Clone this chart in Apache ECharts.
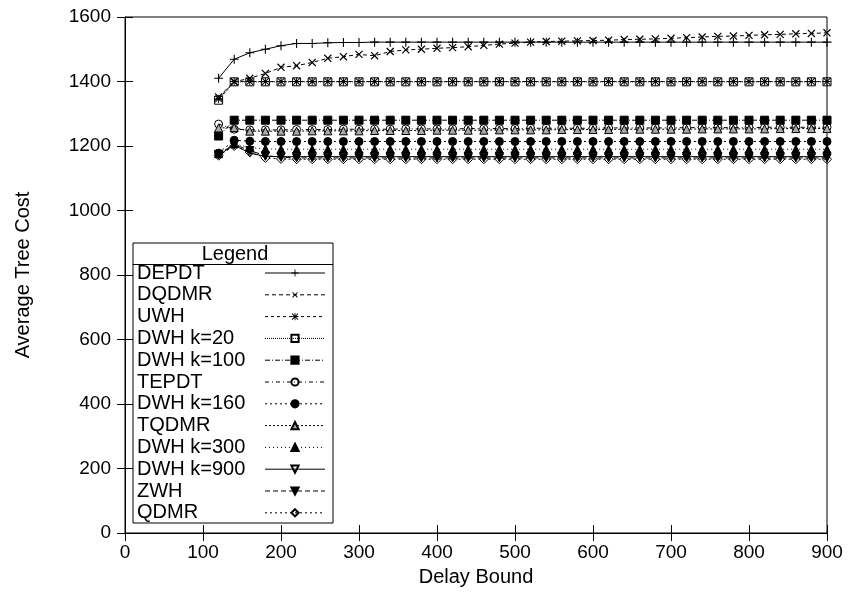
<!DOCTYPE html>
<html>
<head>
<meta charset="utf-8">
<script src="https://cdn.jsdelivr.net/npm/echarts@6/dist/echarts.min.js"></script>
<style>
  html, body { margin: 0; padding: 0; background: #fff; }
  #chart { width: 852px; height: 600px; }
</style>
</head>
<body>
<div id="chart"></div>
<script>
// Delay bound values (x axis)
const delayBounds = [120, 140, 160, 180, 200, 220, 240, 260, 280, 300,
  320, 340, 360, 380, 400, 420, 440, 460, 480, 500,
  520, 540, 560, 580, 600, 620, 640, 660, 680, 700,
  720, 740, 760, 780, 800, 820, 840, 860, 880, 900];

const xTicks = [0, 100, 200, 300, 400, 500, 600, 700, 800, 900];
const yTicks = [0, 200, 400, 600, 800, 1000, 1200, 1400, 1600];

// Average tree cost per algorithm
const depdt = [1410, 1469, 1489, 1500, 1511, 1518, 1518, 1520, 1521, 1521,
  1522, 1522, 1522, 1522, 1522, 1522, 1522, 1522, 1522, 1522,
  1522, 1522, 1522, 1522, 1522, 1522, 1522, 1522, 1522, 1522,
  1522, 1522, 1522, 1522, 1522, 1522, 1522, 1522, 1522, 1522];
const dqdmr = [1352, 1399, 1410, 1425, 1444, 1449, 1459, 1472, 1477, 1484,
  1480, 1493, 1498, 1500, 1503, 1505, 1508, 1512, 1516, 1519,
  1522, 1524, 1525, 1526, 1527, 1528, 1530, 1531, 1532, 1534,
  1536, 1538, 1540, 1541, 1543, 1545, 1546, 1548, 1549, 1551];
const uwh = [1346, 1400, 1400, 1400, 1400, 1400, 1400, 1400, 1400, 1400,
  1400, 1400, 1400, 1400, 1400, 1400, 1400, 1400, 1400, 1400,
  1400, 1400, 1400, 1400, 1400, 1400, 1400, 1400, 1400, 1400,
  1400, 1400, 1400, 1400, 1400, 1400, 1400, 1400, 1400, 1400];
const dwhK20 = [1342, 1399, 1399, 1399, 1399, 1399, 1399, 1399, 1399, 1399,
  1399, 1399, 1399, 1399, 1399, 1399, 1399, 1399, 1399, 1399,
  1399, 1399, 1399, 1399, 1399, 1399, 1399, 1399, 1399, 1399,
  1399, 1399, 1399, 1399, 1399, 1399, 1399, 1399, 1399, 1399];
const dwhK100 = [1231, 1280, 1280, 1280, 1280, 1280, 1280, 1280, 1280, 1280,
  1280, 1280, 1280, 1280, 1280, 1280, 1280, 1280, 1280, 1280,
  1280, 1280, 1280, 1280, 1280, 1280, 1280, 1280, 1280, 1280,
  1280, 1280, 1280, 1280, 1280, 1280, 1280, 1280, 1280, 1280];
const tepdt = [1268, 1252, 1250, 1250, 1250, 1251, 1251, 1251, 1252, 1252,
  1252, 1252, 1253, 1253, 1253, 1253, 1254, 1254, 1254, 1254,
  1255, 1255, 1255, 1255, 1255, 1256, 1256, 1256, 1256, 1256,
  1257, 1257, 1257, 1257, 1257, 1258, 1258, 1258, 1258, 1258];
const dwhK160 = [1178, 1218, 1215, 1214, 1214, 1214, 1214, 1214, 1214, 1214,
  1214, 1214, 1214, 1214, 1214, 1214, 1214, 1214, 1214, 1214,
  1214, 1214, 1214, 1214, 1214, 1214, 1214, 1214, 1214, 1214,
  1214, 1214, 1214, 1214, 1214, 1214, 1214, 1214, 1214, 1214];
const tqdmr = [1256, 1257, 1246, 1246, 1246, 1246, 1247, 1247, 1247, 1247,
  1248, 1248, 1248, 1248, 1249, 1249, 1249, 1249, 1250, 1250,
  1250, 1250, 1251, 1251, 1251, 1251, 1252, 1252, 1252, 1252,
  1252, 1253, 1253, 1253, 1253, 1253, 1254, 1254, 1254, 1254];
const dwhK300 = [1176, 1207, 1195, 1191, 1190, 1190, 1190, 1190, 1190, 1190,
  1190, 1190, 1190, 1190, 1190, 1190, 1190, 1190, 1190, 1190,
  1190, 1190, 1190, 1190, 1190, 1190, 1190, 1190, 1190, 1190,
  1190, 1190, 1190, 1190, 1190, 1190, 1190, 1190, 1190, 1190];
const dwhK900 = [1172, 1203, 1178, 1168, 1167, 1167, 1167, 1167, 1167, 1167,
  1167, 1167, 1167, 1167, 1167, 1167, 1167, 1167, 1167, 1167,
  1167, 1167, 1167, 1167, 1167, 1167, 1167, 1167, 1167, 1167,
  1167, 1167, 1167, 1167, 1167, 1167, 1167, 1167, 1167, 1167];
const zwh = [1174, 1205, 1186, 1170, 1165, 1163, 1163, 1163, 1163, 1163,
  1163, 1163, 1163, 1163, 1163, 1163, 1163, 1163, 1163, 1163,
  1163, 1163, 1163, 1163, 1163, 1163, 1163, 1163, 1163, 1163,
  1163, 1163, 1163, 1163, 1163, 1163, 1163, 1163, 1163, 1163];
const qdmr = [1170, 1200, 1181, 1163, 1160, 1159, 1159, 1159, 1159, 1159,
  1159, 1159, 1159, 1159, 1159, 1159, 1159, 1159, 1159, 1159,
  1159, 1159, 1159, 1159, 1159, 1159, 1159, 1159, 1159, 1159,
  1159, 1159, 1159, 1159, 1159, 1159, 1159, 1159, 1159, 1159];

// Point-style glyphs drawn as filled outlines
const PLUS = 'path://M4.4,0H5.6V10H4.4Z M0,4.4H10V5.6H0Z';
const STAR = 'path://M4.4,0H5.6V10H4.4Z M0,4.4H10V5.6H0Z ' +
  'M0.38,1.22L1.22,0.38L9.62,8.78L8.78,9.62Z M8.78,0.38L9.62,1.22L1.22,9.62L0.38,8.78Z';

const FONT = 'Liberation Sans, Arial, Helvetica, sans-serif';
const HOLLOW = 'rgba(0,0,0,0)';

function pairs(values) {
  return delayBounds.map((d, i) => [d, values[i]]);
}

function makeSeries(name, values, symbol, opts) {
  opts = opts || {};
  return {
    name: name,
    type: 'line',
    data: pairs(values),
    symbol: symbol,
    symbolSize: opts.size || 8,
    symbolRotate: opts.rotate || 0,
    showAllSymbol: true,
    color: '#000',
    lineStyle: { color: '#000', width: 1, type: opts.dash || 'solid' },
    itemStyle: {
      color: opts.fill === undefined ? '#000' : opts.fill,
      borderColor: '#000',
      borderWidth: opts.border === undefined ? 1 : opts.border
    },
    emphasis: { disabled: true },
    animation: false
  };
}

const series = [
  makeSeries('DEPDT', depdt, PLUS, { size: 9, border: 0 }),
  makeSeries('DQDMR', dqdmr, PLUS, { size: 10, border: 0, rotate: 45, dash: [4, 3] }),
  makeSeries('UWH', uwh, STAR, { size: 8, border: 0, dash: [3, 3] }),
  makeSeries('DWH k=20', dwhK20, 'rect', { size: 8, fill: HOLLOW, dash: [1, 1] }),
  makeSeries('DWH k=100', dwhK100, 'rect', { size: 8, dash: [5, 2, 1, 2] }),
  makeSeries('TEPDT', tepdt, 'circle', { size: 8, fill: HOLLOW, dash: [4, 3, 1, 3] }),
  makeSeries('DWH k=160', dwhK160, 'circle', { size: 8, dash: [2, 3] }),
  makeSeries('TQDMR', tqdmr, 'triangle', { size: 8, fill: '#aaa', dash: [2, 2] }),
  makeSeries('DWH k=300', dwhK300, 'triangle', { size: 8, dash: [1, 3] }),
  makeSeries('DWH k=900', dwhK900, 'triangle', { size: 8, fill: HOLLOW, rotate: 180 }),
  makeSeries('ZWH', zwh, 'triangle', { size: 8, rotate: 180, dash: [5, 3] }),
  makeSeries('QDMR', qdmr, 'diamond', { size: 9, fill: HOLLOW, dash: [2, 3] })
];

const tickLabel = {
  color: '#000', fontFamily: FONT, fontSize: 19,
  formatter: v => String(v)
};

const chart = echarts.init(document.getElementById('chart'), null, { renderer: 'canvas' });

const option = {
  backgroundColor: '#fff',
  animation: false,
  grid: {
    left: 125, right: 25, top: 17, bottom: 67,
    show: true, borderColor: '#000', borderWidth: 1, backgroundColor: 'transparent'
  },
  xAxis: [
    {
      type: 'value', min: xTicks[0], max: xTicks[xTicks.length - 1], interval: 100,
      name: 'Delay Bound', nameLocation: 'middle', nameGap: 34,
      nameTextStyle: { color: '#000', fontFamily: FONT, fontSize: 20 },
      axisLine: { show: true, lineStyle: { color: '#000', width: 1 } },
      axisTick: { show: true, inside: true, length: 8, lineStyle: { color: '#000' } },
      axisLabel: Object.assign({ margin: 10 }, tickLabel),
      splitLine: { show: false }
    },
    {
      type: 'value', position: 'top', min: xTicks[0], max: xTicks[xTicks.length - 1], interval: 100,
      axisLine: { show: true, lineStyle: { color: '#000', width: 1 } },
      axisTick: { show: true, inside: true, length: 8, lineStyle: { color: '#000' } },
      axisLabel: { show: false },
      splitLine: { show: false }
    }
  ],
  yAxis: [
    {
      type: 'value', min: yTicks[0], max: yTicks[yTicks.length - 1], interval: 200,
      name: 'Average Tree Cost', nameLocation: 'middle', nameGap: 92,
      nameTextStyle: { color: '#000', fontFamily: FONT, fontSize: 20 },
      axisLine: { show: true, lineStyle: { color: '#000', width: 1 } },
      axisTick: { show: true, inside: true, length: 8, lineStyle: { color: '#000' } },
      axisLabel: Object.assign({ margin: 14 }, tickLabel),
      splitLine: { show: false }
    },
    {
      type: 'value', position: 'right', min: yTicks[0], max: yTicks[yTicks.length - 1], interval: 200,
      axisLine: { show: true, lineStyle: { color: '#000', width: 1 } },
      axisTick: { show: true, inside: true, length: 8, lineStyle: { color: '#000' } },
      axisLabel: { show: false },
      splitLine: { show: false }
    }
  ],
  legend: {
    orient: 'vertical',
    left: 133,
    top: 263,
    z: 10,
    align: 'right',
    padding: [0, 0, 0, 4],
    itemWidth: 60,
    itemHeight: 9,
    itemGap: 1.8,
    selectedMode: false,
    lineStyle: { width: 1 },
    formatter: name => '{n|' + name + '}',
    textStyle: {
      color: '#000', fontFamily: FONT, fontSize: 20, lineHeight: 20,
      rich: {
        n: { width: 123, align: 'left', color: '#000', fontFamily: FONT, fontSize: 20, lineHeight: 20 }
      }
    },
    data: series.map(s => s.name)
  },
  graphic: [
    {
      type: 'rect', z: 5,
      shape: { x: 133, y: 243, width: 200, height: 280 },
      style: { fill: '#fff', stroke: '#000', lineWidth: 1 }
    },
    {
      type: 'line', z: 6,
      shape: { x1: 133, y1: 264.5, x2: 333, y2: 264.5 },
      style: { stroke: '#000', lineWidth: 1 }
    },
    {
      type: 'text', z: 6,
      x: 235, y: 254,
      style: {
        text: 'Legend', fill: '#000', font: '20px ' + FONT,
        textAlign: 'center', textVerticalAlign: 'middle'
      }
    }
  ],
  series: series
};

chart.setOption(option);
</script>
</body>
</html>
